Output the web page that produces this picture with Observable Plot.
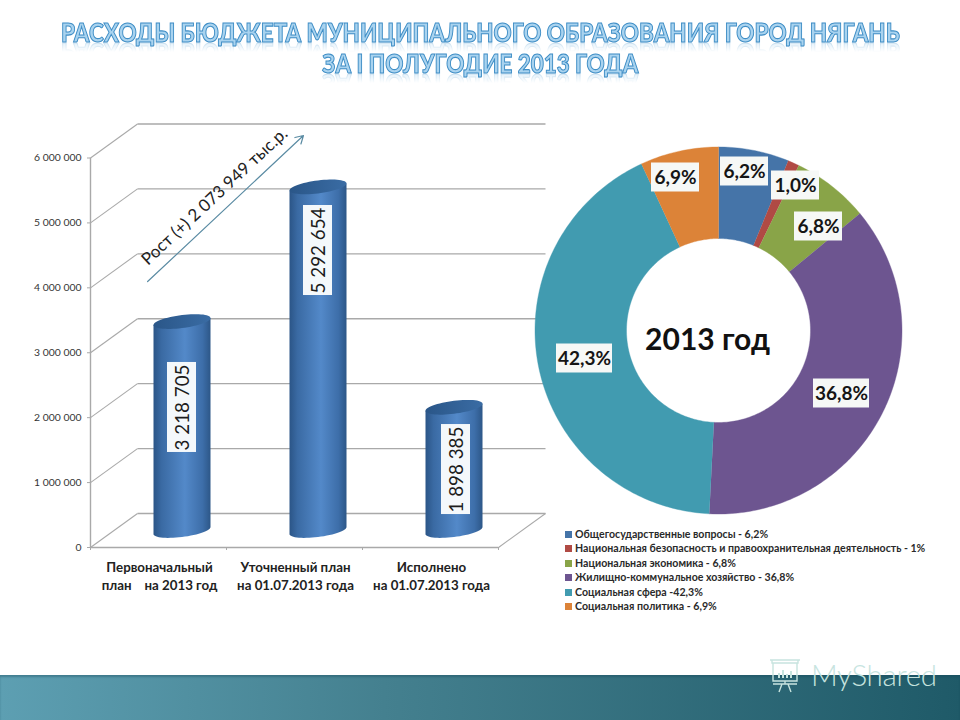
<!DOCTYPE html>
<html lang="ru">
<head>
<meta charset="utf-8">
<script src="https://cdn.jsdelivr.net/npm/d3@7"></script>
<script src="https://cdn.jsdelivr.net/npm/@observablehq/plot@0.6"></script>
<style>
  html, body { margin: 0; padding: 0; background: #fff; width: 960px; height: 720px; overflow: hidden; font-family: Lato, sans-serif; }
  .abs { position: absolute; }
  .title {
    left: 0; width: 960px; display: flex; justify-content: center; font-weight: 900; font-size: 27px; line-height: 31px;
    white-space: nowrap; color: #a9d3ef; -webkit-text-stroke: 1.1px #3f8ec6;
  }
  .title span {
    flex: none; transform: scaleX(.83);
    -webkit-box-reflect: below -9px linear-gradient(transparent 55%, rgba(255,255,255,.45));
  }
  #legend { left: 565px; top: 527px; font-size: 10.6px; font-weight: 700; line-height: 14.45px; color: #2a2a2a; white-space: nowrap; }
  #legend i { display: inline-block; width: 7px; height: 7px; margin-right: 3px; }
  #band { left: 0; top: 675px; width: 960px; height: 45px; background: linear-gradient(90deg, #5d9fb2, #44808f 40%, #1f5a68); box-shadow: inset 0 2px 2px rgba(20,70,85,.35); }
  #mark { left: 811px; top: 656px; color: #c7e4df; font-size: 29.5px; font-weight: 300; line-height: 38px; letter-spacing: -.3px; }
</style>
</head>
<body>
<div class="abs title" id="t1" style="top:16px"><span>РАСХОДЫ БЮДЖЕТА МУНИЦИПАЛЬНОГО ОБРАЗОВАНИЯ ГОРОД НЯГАНЬ</span></div>
<div class="abs title" id="t2" style="top:47px"><span>ЗА I ПОЛУГОДИЕ 2013 ГОДА</span></div>
<div class="abs" id="band"></div>
<div class="abs" id="bars" style="left:0;top:90px"></div>
<div class="abs" id="donut" style="left:528px;top:140px"></div>
<div class="abs" id="legend"></div>
<svg class="abs" style="left:767px;top:656px" width="38" height="38" viewBox="0 0 38 38" fill="none" stroke="#c7e4df" stroke-width="1.4">
  <path d="M3 4h30M5 4v3h26V4M6 7v18h24V7M18 25v3M12 36l3-8M24 36l-3-8M6 28h24"/>
  <path d="M12 22v-5M16 22v-8M20 22v-4M24 22v-7" stroke-width="2"/>
</svg>
<div class="abs" id="mark">MyShared</div>
<script>
// ---- bar chart data
const barCategories = ["Первоначальный\nплан \u00a0\u00a0\u00a0на 2013 год", "Уточненный план\nна 01.07.2013 года", "Исполнено\nна 01.07.2013 года"];
const barValues = [3218705, 5292654, 1898385];
const barLabels = ["3 218 705", "5 292 654", "1 898 385"];
const yTicks = [0, 1000000, 2000000, 3000000, 4000000, 5000000, 6000000];
const growthLabel = "Рост (+) 2 073 949 тыс.р.";

// ---- donut data
const sliceNames = ["Общегосударственные вопросы", "Национальная безопасность и правоохранительная деятельность", "Национальная экономика", "Жилищно-коммунальное хозяйство", "Социальная сфера", "Социальная политика"];
const sliceValues = [6.2, 1.0, 6.8, 36.8, 42.3, 6.9];
const sliceLabels = ["6,2%", "1,0%", "6,8%", "36,8%", "42,3%", "6,9%"];
const legendTexts = ["Общегосударственные вопросы - 6,2%", "Национальная безопасность и правоохранительная деятельность - 1%", "Национальная экономика - 6,8%", "Жилищно-коммунальное хозяйство - 36,8%", "Социальная сфера -42,3%", "Социальная политика - 6,9%"];
const sliceColors = ["#4574a8", "#b04a44", "#89a448", "#6d5590", "#419bb0", "#dc8338"];
const donutTitle = "2013 год";

// ---- bar chart geometry, in scale units
const pxX = 1 / 136, pxY = 6000000 / 389.5;
const depthX = 47 * pxX, depthY = 34 * pxY;      // oblique depth of the floor
const midX = depthX / 2, midY = depthY / 2;
const cylR = 28.5 * pxX, capRy = 6.5 * pxY, capTilt = 3.5 * pxY;
const angles = d3.range(0, 361, 6).map((d) => d * Math.PI / 180);
const centers = barValues.map((_, i) => i + 0.5 + midX);
const ell = (cx, cy, t) => ({x: cx + cylR * Math.cos(t), y: cy + capTilt * Math.cos(t) - capRy * Math.sin(t)});
const body = barValues.flatMap((v, i) => {
  const cx = centers[i], top = v + midY;
  const lower = angles.filter((t) => t <= Math.PI + 1e-6).map((t) => ell(cx, midY, t));
  return [{x: cx - cylR, y: top - capTilt}, {x: cx + cylR, y: top + capTilt}, ...lower].map((p) => ({...p, id: i}));
});
const caps = barValues.flatMap((v, i) => angles.map((t) => ({...ell(centers[i], v + midY, t), id: i})));
const gridRows = yTicks.map((v) => ({v}));
const labelAnchors = [2157000, 4575000, 1201000];
const labelShift = [0, 0, 2 * pxX];
const boxes = barLabels.map((label, i) => ({
  label, cx: centers[i] + labelShift[i] + pxX, cy: labelAnchors[i],
  x1: centers[i] + labelShift[i] - 14.5 * pxX, x2: centers[i] + labelShift[i] + 14.5 * pxX,
  y1: labelAnchors[i] - 45 * pxY, y2: labelAnchors[i] + 45 * pxY
}));
const gridColor = "#a9a9a9";

const barPlot = Plot.plot({
  width: 560, height: 560,
  marginLeft: 90, marginRight: 62, marginTop: 67.5, marginBottom: 103,
  style: {background: "transparent", fontFamily: "Lato, sans-serif", overflow: "visible"},
  x: {domain: [0, 3], axis: null},
  y: {domain: [0, 6000000], axis: null},
  marks: [
    () => {
      const ns = "http://www.w3.org/2000/svg";
      const defs = document.createElementNS(ns, "defs");
      const stops = {cyl: [[0, "#2b5587"], [.14, "#3a6aa3"], [.55, "#5389c9"], [.86, "#3d6ea9"], [1, "#2d5788"]],
                     cap: [[0, "#2a5688"], [1, "#3a6ca4"]]};
      for (const id in stops) {
        const g = document.createElementNS(ns, "linearGradient");
        g.setAttribute("id", id);
        for (const [o, c] of stops[id]) {
          const s = document.createElementNS(ns, "stop");
          s.setAttribute("offset", o); s.setAttribute("stop-color", c);
          g.appendChild(s);
        }
        defs.appendChild(g);
      }
      return defs;
    },
    Plot.link(gridRows, {x1: 0, y1: "v", x2: depthX, y2: (d) => d.v + depthY, stroke: gridColor, strokeWidth: 1.1}),
    Plot.link(gridRows, {x1: depthX, y1: (d) => d.v + depthY, x2: 3 + depthX, y2: (d) => d.v + depthY, stroke: gridColor, strokeWidth: 1.4}),
    Plot.link([0], {x1: 3, y1: 0, x2: 3 + depthX, y2: depthY, stroke: gridColor, strokeWidth: 1.1}),
    Plot.ruleX([0], {y1: 0, y2: 6000000, stroke: gridColor, strokeWidth: 1.4}),
    Plot.ruleY([0], {x1: 0, x2: 3, stroke: gridColor, strokeWidth: 1.6}),
    Plot.axisY({ticks: yTicks, label: null, tickSize: 3, tickPadding: 6, stroke: gridColor, fill: "#333", fontSize: 10.4,
      tickFormat: (d) => d3.format(",")(d).replace(/,/g, " ")}),
    Plot.axisX({ticks: [0, 1, 2, 3], label: null, tickSize: 3, stroke: gridColor, tickFormat: () => ""}),
    Plot.line(body, {x: "x", y: "y", z: "id", fill: "url(#cyl)", stroke: "none"}),
    Plot.line(caps, {x: "x", y: "y", z: "id", fill: "url(#cap)", stroke: "none"}),
    Plot.rect(boxes, {x1: "x1", x2: "x2", y1: "y1", y2: "y2", fill: "#f4f8fb"}),
    Plot.text(boxes, {x: "cx", y: "cy", text: "label", rotate: -90, fontSize: 18.8, fill: "#1c1c1c"}),
    Plot.text(barCategories, {x: (_, i) => i + 0.5 + 1 * pxX, y: 0, text: (d) => d, dy: 28, fontSize: 13.3, fontWeight: 700, lineHeight: 1.36, fill: "#222"}),
    Plot.arrow([0], {x1: 0.42, y1: 4097000, x2: 1.566, y2: 6346000, bend: 0, stroke: "#5a8ba3", strokeWidth: 1.2, headLength: 11}),
    Plot.text([growthLabel], {x: 0.912, y: 5407000, text: (d) => d, rotate: -43, fontSize: 17, fill: "#222"})
  ]
});
document.getElementById("bars").appendChild(barPlot);

// ---- donut
const holeRatio = 92 / 183.5;
const total = d3.sum(sliceValues);
const ends = d3.cumsum(sliceValues);
const polar = (frac, r) => {
  const a = frac * 2 * Math.PI;
  return {x: r * Math.sin(a), y: r * Math.cos(a)};
};
const slices = sliceNames.flatMap((name, i) => {
  const f0 = (ends[i] - sliceValues[i]) / total, f1 = ends[i] / total;
  const steps = d3.range(0, Math.ceil((f1 - f0) * 360) + 1).map((k, _, a) => f0 + (f1 - f0) * k / (a.length - 1));
  return [...steps.map((f) => polar(f, 1)), ...steps.slice().reverse().map((f) => polar(f, holeRatio))].map((p) => ({...p, name}));
});
const R = 183.5, C = 190, unit = 1 / R;
// label centres as offsets from the donut's centre
const labelOffsets = [[26, 159], [77, 145], [100, 104], [123, -63], [-134, -28], [-43, 153]];
const labelBoxes = sliceLabels.map((label, i) => {
  const x = labelOffsets[i][0] * unit, y = labelOffsets[i][1] * unit;
  const half = (label.length > 4 ? 28 : 24) * unit;
  return {label, x, y, x1: x - half, x2: x + half, y1: y - 14.5 * unit, y2: y + 14.5 * unit};
});
const donutPlot = Plot.plot({
  width: 380, height: 380, margin: 0,
  style: {background: "transparent", fontFamily: "Lato, sans-serif", overflow: "visible"},
  x: {domain: [-1, 1], range: [C - R, C + R], axis: null},
  y: {domain: [-1, 1], range: [C + R, C - R], axis: null},
  color: {domain: sliceNames, range: sliceColors},
  marks: [
    Plot.line(slices, {x: "x", y: "y", z: "name", fill: "name", stroke: "name", strokeWidth: 0.4}),
    Plot.rect(labelBoxes, {x1: "x1", x2: "x2", y1: "y1", y2: "y2", fill: "#f6f8f6"}),
    Plot.text(labelBoxes, {x: "x", y: "y", text: "label", fontSize: 19, fontWeight: 700, fill: "#151515"}),
    Plot.text([donutTitle], {x: -0.06, y: -0.054, text: (d) => d, fontSize: 30, fontWeight: 700, fill: "#111"})
  ]
});
document.getElementById("donut").appendChild(donutPlot);

// ---- legend
const legend = document.getElementById("legend");
legendTexts.forEach((text, i) => {
  const row = document.createElement("div");
  const sw = document.createElement("i");
  sw.style.background = sliceColors[i];
  row.appendChild(sw);
  row.appendChild(document.createTextNode(text));
  legend.appendChild(row);
});
</script>
</body>
</html>
